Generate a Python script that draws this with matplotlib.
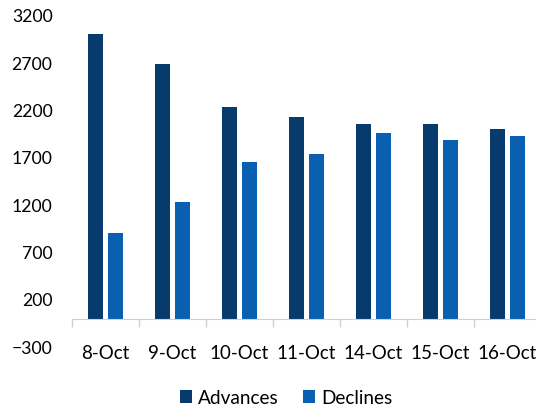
import matplotlib
matplotlib.use("Agg")
import matplotlib.pyplot as plt
import numpy as np

dates = ["8-Oct", "9-Oct", "10-Oct", "11-Oct", "14-Oct", "15-Oct", "16-Oct"]
advances = [3010, 2695, 2242, 2137, 2058, 2058, 2006]
declines = [910, 1238, 1654, 1742, 1963, 1886, 1929]
y_ticks = [-300, 200, 700, 1200, 1700, 2200, 2700, 3200]

ADV_COLOR = "#073a6d"
DEC_COLOR = "#0960b0"

plt.rcParams["font.family"] = ["Lato", "DejaVu Sans"]

fig = plt.figure(figsize=(5.36, 4.08), dpi=100)
ax = fig.add_axes([72 / 536, 1 - 347 / 408, 469 / 536, 331 / 408])

x = np.arange(len(dates))
w = 0.22
ax.bar(x - 0.145, advances, width=w, color=ADV_COLOR, label="Advances")
ax.bar(x + 0.145, declines, width=w, color=DEC_COLOR, label="Declines")

ax.set_ylim(-300, 3200)
ax.set_xlim(-0.5, len(dates) - 0.5)
ax.set_yticks(y_ticks)
ax.tick_params(axis="y", length=0, pad=14, labelsize=12.7, colors="#000000")

# category axis sits at zero, labels stay low like Excel
ax.spines["bottom"].set_position(("data", 0))
ax.spines["bottom"].set_color("#d0d0d0")
for s in ("top", "right", "left"):
    ax.spines[s].set_visible(False)
ax.set_xticks(x)
ax.set_xticklabels(dates)
ax.tick_params(axis="x", which="major", length=0, pad=19, labelsize=13.5)
ax.set_xticks(np.arange(len(dates) + 1) - 0.5, minor=True)
ax.tick_params(axis="x", which="minor", length=6, width=1, color="#d0d0d0")

fig.legend(loc="center", bbox_to_anchor=(286 / 536, 1 - 398 / 408), ncol=2,
           frameon=False, fontsize=13.7, handlelength=0.65, handleheight=0.65,
           handletextpad=0.3, columnspacing=1.3)

fig.savefig("out.png", dpi=100)
